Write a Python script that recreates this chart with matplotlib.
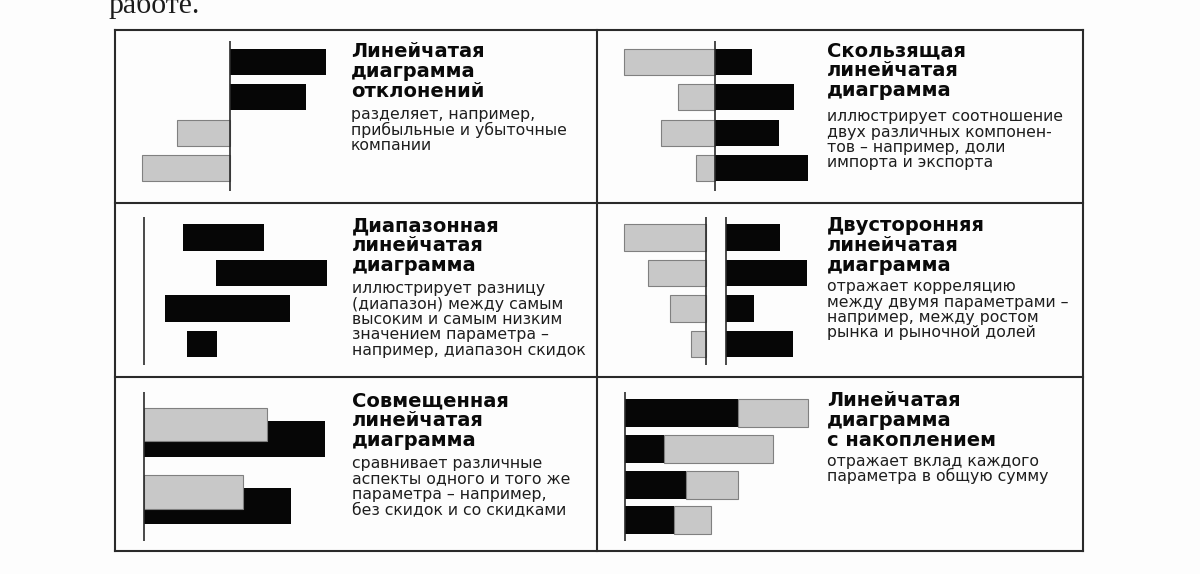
import numpy as np
import matplotlib
matplotlib.use('Agg')
import matplotlib.pyplot as plt
from matplotlib.lines import Line2D

W, H = 1200, 574

# данные (в пикселях оригинала, отсчёт от нулевой линии)
dev_values = [96, 76, -53, -88]                  # диаграмма отклонений

slide_left = [-91, -37, -54, -19]                # скользящая: серая часть
slide_right = [37, 79, 64, 93]                   # скользящая: чёрная часть

range_start = [39, 72, 21, 43]                   # диапазонная
range_end = [120, 183, 146, 73]

two_left = [-82, -58, -36, -15]                  # двусторонняя
two_right = [54, 81, 28, 67]

overlap_front = [123, 99]                        # совмещенная (серые)
overlap_back = [181, 147]                        # совмещенная (чёрные)

stack_black = [113, 39, 61, 49]                  # с накоплением
stack_gray = [70, 109, 52, 37]

titles = [
    ['Линейчатая', 'диаграмма', 'отклонений'],
    ['Скользящая', 'линейчатая', 'диаграмма'],
    ['Диапазонная', 'линейчатая', 'диаграмма'],
    ['Двусторонняя', 'линейчатая', 'диаграмма'],
    ['Совмещенная', 'линейчатая', 'диаграмма'],
    ['Линейчатая', 'диаграмма', 'с накоплением'],
]
bodies = [
    ['разделяет, например,', 'прибыльные и убыточные', 'компании'],
    ['иллюстрирует соотношение', 'двух различных компонен-', 'тов – например, доли',
     'импорта и экспорта'],
    ['иллюстрирует разницу', '(диапазон) между самым', 'высоким и самым низким',
     'значением параметра –', 'например, диапазон скидок'],
    ['отражает корреляцию', 'между двумя параметрами –', 'например, между ростом',
     'рынка и рыночной долей'],
    ['сравнивает различные', 'аспекты одного и того же', 'параметра – например,',
     'без скидок и со скидками'],
    ['отражает вклад каждого', 'параметра в общую сумму'],
]

BLACK = '#060606'
GRAY = '#c8c8c8'
GRAY_EDGE = '#808080'
LINE = '#2a2a2a'

fig = plt.figure(figsize=(W / 100, H / 100), dpi=100, facecolor='#fdfdfd')


def px_axes(x0, y0, x1, y1):
    ax = fig.add_axes([x0 / W, 1 - y1 / H, (x1 - x0) / W, (y1 - y0) / H])
    ax.set_axis_off()
    return ax


def fx(x):
    return x / W


def fy(y):
    return 1 - y / H


# строка текста сверху (обрезана, как в оригинале)
fig.text(fx(108), fy(13), 'работе.', family='Liberation Serif', fontsize=21.5,
         color='#1c1c1c', va='baseline', ha='left')

# рамка таблицы
tx0, tx1, ty0, ty1 = 115, 1083, 30, 551
xm, ya, yb = 597, 203, 377
lw_tab = 1.5
for (xa, ya_, xb, yb_) in [(tx0, ty0, tx1, ty0), (tx0, ty1, tx1, ty1),
                           (tx0, ty0, tx0, ty1), (tx1, ty0, tx1, ty1),
                           (xm, ty0, xm, ty1), (tx0, ya, tx1, ya), (tx0, yb, tx1, yb)]:
    fig.add_artist(Line2D([fx(xa), fx(xb)], [fy(ya_), fy(yb_)], color=LINE,
                          lw=lw_tab, solid_capstyle='projecting'))

gray_kw = dict(color=GRAY, edgecolor=GRAY_EDGE, linewidth=0.8)
rows4 = np.arange(4)

# 1. диаграмма отклонений
ax = px_axes(135, 41, 340, 191)
ax.set_xlim(135 - 230, 340 - 230)
ax.set_ylim(3.65, -0.594)
vals = np.array(dev_values)
pos = vals > 0
ax.barh(rows4[pos], vals[pos], height=0.736, color=BLACK)
ax.barh(rows4[~pos], vals[~pos], height=0.736, **gray_kw)
ax.axvline(0, color=LINE, lw=1.2)

# 2. скользящая
ax = px_axes(615, 41, 820, 191)
ax.set_xlim(615 - 715, 820 - 715)
ax.set_ylim(3.65, -0.594)
ax.barh(rows4, slide_left, height=0.736, **gray_kw)
ax.barh(rows4, slide_right, height=0.736, color=BLACK)
ax.axvline(0, color=LINE, lw=1.2)

# 3. диапазонная
ax = px_axes(135, 217, 340, 365)
ax.set_xlim(135 - 144, 340 - 144)
ax.set_ylim(3.59, -0.577)
ax.barh(rows4, np.array(range_end) - np.array(range_start), left=range_start,
        height=0.75, color=BLACK)
ax.axvline(0, color=LINE, lw=1.2)

# 4. двусторонняя
gap = 20
ax = px_axes(615, 217, 820, 365)
ax.set_xlim(615 - 706, 820 - 706)
ax.set_ylim(3.59, -0.577)
ax.barh(rows4, two_left, height=0.75, **gray_kw)
ax.barh(rows4, two_right, left=gap, height=0.75, color=BLACK)
ax.axvline(0, color=LINE, lw=1.2)
ax.axvline(gap, color=LINE, lw=1.2)

# 5. совмещенная
rows2 = np.arange(2)
ax = px_axes(135, 392, 340, 541)
ax.set_xlim(135 - 144, 340 - 144)
ax.set_ylim(1.625, -0.591)
ax.barh(rows2 + 0.108, overlap_back, height=0.535, color=BLACK)
ax.barh(rows2 - 0.108, overlap_front, height=0.5, **gray_kw)
ax.axvline(0, color=LINE, lw=1.2)

# 6. с накоплением
ax = px_axes(615, 392, 820, 541)
ax.set_xlim(615 - 625, 820 - 625)
ax.set_ylim(3.575, -0.587)
ax.barh(rows4, stack_black, height=0.78, color=BLACK)
ax.barh(rows4, stack_gray, left=stack_black, height=0.78, **gray_kw)
ax.axvline(0, color=LINE, lw=1.2)

# подписи
text_x = [351, 827, 352, 827, 352, 827]
title_y = [57, 56, 231, 231, 406, 406]
body_y = [119, 121, 293, 291, 468, 466]
for i in range(6):
    for j, line in enumerate(titles[i]):
        fig.text(fx(text_x[i]), fy(title_y[i] + 20 * j), line, family='DejaVu Sans',
                 weight='bold', fontsize=14, color='#0a0a0a', va='baseline')
    for j, line in enumerate(bodies[i]):
        fig.text(fx(text_x[i]), fy(body_y[i] + 15.5 * j), line, family='DejaVu Sans',
                 fontsize=11.3, color='#1e1e1e', va='baseline')

fig.savefig('out.png', dpi=100, facecolor=fig.get_facecolor())
